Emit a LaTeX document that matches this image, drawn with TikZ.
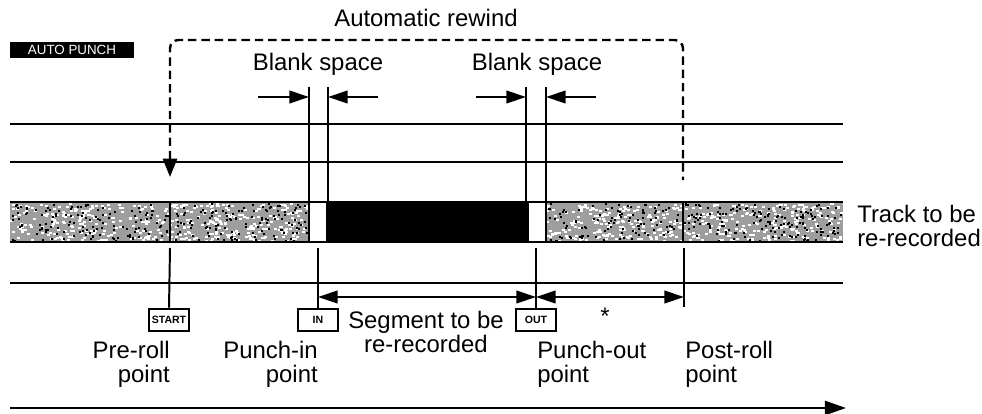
\documentclass[tikz,border=0pt]{standalone}
\usepackage{fontspec}
\setmainfont{Liberation Sans}
\usetikzlibrary{arrows.meta,positioning}

\tikzset{
  lbl/.style={inner sep=0pt,font=\fontsize{17}{17}\selectfont},
  tag/.style={draw,line width=1.5pt,minimum width=1.02cm,minimum height=0.56cm,inner sep=0pt,
    font=\bfseries\fontsize{7.5}{8}\selectfont},
  rail/.style={line width=1.8pt},
  tick/.style={line width=1.4pt},
  tape/.style={fill=black!38,draw=none},
}

\begin{document}
\begin{tikzpicture}[x=0.025cm,y=-0.025cm,>={Triangle[length=14pt,width=9pt]}]
  \useasboundingbox (0,0) rectangle (982,414);

  % header
  \node[fill=black,text=white,minimum width=3.08cm,minimum height=0.4cm,inner sep=0pt,
    font=\fontsize{9.5}{10}\selectfont] (autopunch) at (72,50) {AUTO PUNCH};
  \node[lbl] (rewind) at (426,18) {Automatic rewind};
  \node[lbl] (blank1) at (318,64) {Blank space};
  \node[lbl] (blank2) at (537,64) {Blank space};

  % positions along the tape
  \coordinate (rwL) at (170,177);
  \coordinate (rwR) at (683,180);
  \coordinate (in1) at (309,87);
  \coordinate (in2) at (328,87);
  \coordinate (out1) at (526,87);
  \coordinate (out2) at (546,87);

  % rails
  \draw[rail] (10,124) -- (843,124);
  \draw[rail] (10,162) -- (843,162);
  \draw[rail] (10,283) -- (843,283);

  % track, with a grainy fill
  \fill[tape] (10,202) rectangle (309,242);
  \fill[tape] (546,202) rectangle (843,242);
  \pgfmathsetseed{17}
  \foreach \i in {1,...,420} {
    \pgfmathsetmacro{\sx}{10+296*rnd}
    \pgfmathsetmacro{\sy}{203+37*rnd}
    \fill[white] (\sx,\sy) rectangle ++(3,2);
    \pgfmathsetmacro{\sx}{546+294*rnd}
    \pgfmathsetmacro{\sy}{203+37*rnd}
    \fill[white] (\sx,\sy) rectangle ++(3,2);
  }
  \foreach \i in {1,...,260} {
    \pgfmathsetmacro{\sx}{10+296*rnd}
    \pgfmathsetmacro{\sy}{203+37*rnd}
    \fill[black] (\sx,\sy) rectangle ++(2,2);
    \pgfmathsetmacro{\sx}{546+294*rnd}
    \pgfmathsetmacro{\sy}{203+37*rnd}
    \fill[black] (\sx,\sy) rectangle ++(2,2);
  }
  \fill[black] (327,202) rectangle (528,242);
  \draw[rail] (10,202) -- (843,202) (10,242) -- (843,242);
  \draw[tick] (309,202) -- (309,242) (327,202) -- (327,242)
    (528,202) -- (528,242) (546,202) -- (546,242);
  \draw[line width=1.8pt] (170,202) -- (170,242) (683,202) -- (683,242);
  \node[lbl,anchor=west,align=left] (track) at (857,226) {Track to be\\re-recorded};

  % automatic rewind
  \draw[line width=1.7pt,dash pattern=on 6pt off 3.5pt,rounded corners=6pt,
    >={Triangle[length=13pt,width=10pt]},<-] (rwL) -- (170,40) -| (rwR);

  % blank spaces
  \draw[tick] (in1) -- (309,202) (in2) -- (328,202);
  \draw[tick] (out1) -- (526,202) (out2) -- (546,202);
  \draw[tick,->] (258,97) -- (309,97);
  \draw[tick,->] (378,97) -- (328,97);
  \draw[tick,->] (476,97) -- (526,97);
  \draw[tick,->] (596,97) -- (546,97);

  % markers below the track
  \node[tag] (start) at (169,320) {START};
  \node[tag] (inbox) at (318,320) {IN};
  \node[tag] (outbox) at (536,320) {OUT};
  \coordinate (post) at (684,307);
  \draw[tick] (170,248) -- (start.north);
  \draw[tick] (318,248) -- (inbox.north);
  \draw[tick] (536,248) -- (outbox.north);
  \draw[tick] (684,248) -- (post);
  \draw[tick,<->] (318,297) -- (536,297);
  \draw[tick,<->] (536,297) -- (684,297);
  \node[lbl] (star) at (605,316) {*};

  % labels
  \node[lbl,anchor=north,align=center] (segment) at (426,311) {Segment to be\\re-recorded};
  \node[lbl,anchor=north east,align=right] (prelbl) at (170,341) {Pre-roll\\point};
  \node[lbl,anchor=north east,align=right] (inlbl) at (318,341) {Punch-in\\point};
  \node[lbl,anchor=north west,align=left] (outlbl) at (537,341) {Punch-out\\point};
  \node[lbl,anchor=north west,align=left] (postlbl) at (685,341) {Post-roll\\point};

  % time axis
  \coordinate (t0) at (10,408);
  \coordinate (t1) at (846,408);
  \draw[rail,->,>={Triangle[length=15pt,width=10pt]}] (t0) -- (t1);
\end{tikzpicture}
\end{document}
